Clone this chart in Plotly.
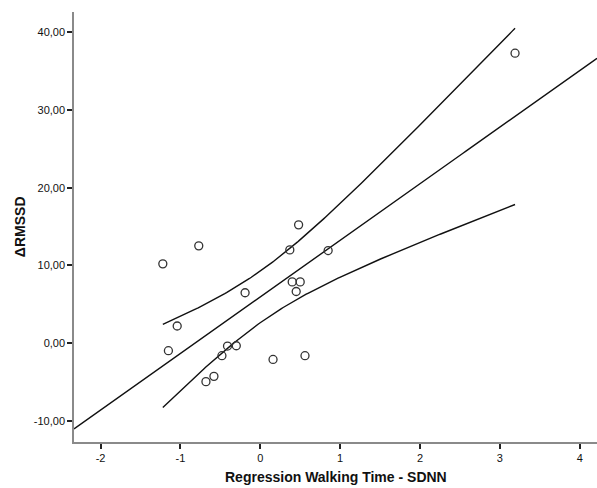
import numpy as np
import plotly.graph_objects as go

# Observations: standardized walking-time regression score vs. change in RMSSD
walk_sdnn = [-1.22, -0.77, -1.04, -1.15, -0.19, 0.37, 0.85, 0.40, 0.50, 0.45,
             -0.41, -0.30, -0.48, -0.58, -0.68, 0.16, 0.56, 0.48, 3.19]
delta_rmssd = [10.19, 12.51, 2.19, -0.99, 6.47, 11.99, 11.90, 7.87, 7.87, 6.63,
               -0.39, -0.35, -1.63, -4.29, -4.97, -2.11, -1.63, 15.21, 37.31]

x_tick_vals = [-2, -1, 0, 1, 2, 3, 4]
x_tick_text = ["-2", "-1", "0", "1", "2", "3", "4"]
y_tick_vals = [-10, 0, 10, 20, 30, 40]
y_tick_text = ["-10,00", "0,00", "10,00", "20,00", "30,00", "40,00"]

x_range = [-2.332, 4.216]
y_range = [-12.74, 42.61]

# Ordinary least squares fit with 95% confidence band for the mean
x = np.asarray(walk_sdnn)
y = np.asarray(delta_rmssd)
n = len(x)
xm, ym = x.mean(), y.mean()
sxx = ((x - xm) ** 2).sum()
slope = ((x - xm) * (y - ym)).sum() / sxx
intercept = ym - slope * xm
resid = y - (intercept + slope * x)
s = np.sqrt((resid ** 2).sum() / (n - 2))
t_crit = 2.1098  # t(0.975, df=17)

line_x = np.linspace(x_range[0], x_range[1], 200)
line_y = intercept + slope * line_x

band_x = np.linspace(x.min(), x.max(), 200)
band_fit = intercept + slope * band_x
half = t_crit * s * np.sqrt(1.0 / n + (band_x - xm) ** 2 / sxx)

line_style = dict(color="#111111", width=1.4)

fig = go.Figure()
fig.add_trace(go.Scatter(x=line_x, y=line_y, mode="lines", line=line_style,
                         showlegend=False, hoverinfo="skip"))
fig.add_trace(go.Scatter(x=band_x, y=band_fit + half, mode="lines", line=line_style,
                         showlegend=False, hoverinfo="skip"))
fig.add_trace(go.Scatter(x=band_x, y=band_fit - half, mode="lines", line=line_style,
                         showlegend=False, hoverinfo="skip"))
fig.add_trace(go.Scatter(
    x=walk_sdnn, y=delta_rmssd, mode="markers", showlegend=False,
    marker=dict(symbol="circle-open", size=8, color="#333333",
                line=dict(width=1.3, color="#333333")),
))

axis_common = dict(
    showgrid=False, zeroline=False, showline=True, linecolor="#8a8a8a", linewidth=1.5,
    ticks="outside", ticklen=5, tickwidth=1.5, tickcolor="#222222",
    tickfont=dict(family="Liberation Sans, Arial, sans-serif", size=11, color="#111111"),
)

fig.update_xaxes(range=x_range, tickvals=x_tick_vals, ticktext=x_tick_text, **axis_common)
fig.update_yaxes(range=y_range, tickvals=y_tick_vals, ticktext=y_tick_text, **axis_common)

title_font = dict(family="Liberation Sans, Arial, sans-serif", size=14, color="#111111")
fig.add_annotation(text="<b>Regression Walking Time - SDNN</b>", xref="paper", yref="paper",
                   x=0.5, y=-0.081, xanchor="center", yanchor="middle",
                   showarrow=False, font=title_font)
fig.add_annotation(text="<b>ΔRMSSD</b>", xref="paper", yref="paper",
                   x=-0.103, y=0.5, xanchor="center", yanchor="middle", textangle=-90,
                   showarrow=False, font=title_font)

fig.update_layout(
    width=597, height=488,
    margin=dict(l=74, r=0, t=12, b=46),
    paper_bgcolor="white", plot_bgcolor="white",
)

fig.write_html("out.html")
